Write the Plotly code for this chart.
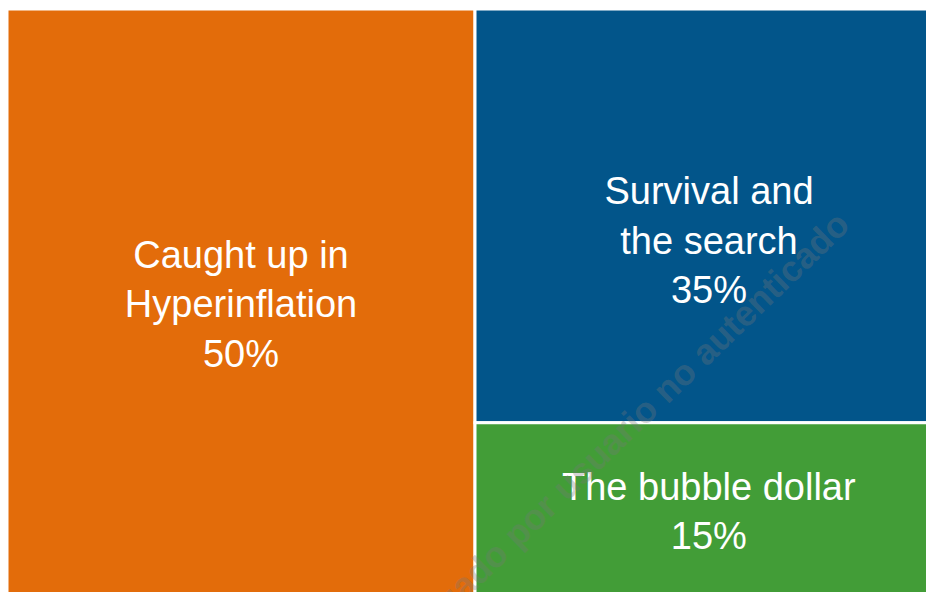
import plotly.graph_objects as go

labels = ["Caught up in<br>Hyperinflation", "Survival and<br>the search", "The bubble dollar"]
values = [50, 35, 15]
pct_text = ["50%", "35%", "15%"]
colors = ["#E36C0A", "#02558A", "#429D37"]
templates = ["%{label}<br>%{text}", "\u00a0<br>%{label}<br>%{text}", "%{label}<br>%{text}"]

fig = go.Figure(go.Treemap(
    labels=labels,
    parents=["", "", ""],
    values=values,
    text=pct_text,
    texttemplate=templates,
    textposition="middle center",
    sort=True,
    marker=dict(colors=colors, line=dict(color="white", width=3),
                pad=dict(t=0, l=0, r=0, b=0)),
    tiling=dict(packing="squarify", pad=0),
    pathbar=dict(visible=False),
    insidetextfont=dict(family="Liberation Sans, Arial, sans-serif", size=38, color="white"),
    hoverinfo="label+value",
))

fig.add_annotation(
    text="Descargado por usuario no autenticado",
    xref="paper", yref="paper", x=0.6314, y=0.247,
    xanchor="center", yanchor="middle",
    textangle=-44, showarrow=False,
    font=dict(family="Liberation Sans, Arial, sans-serif", size=36,
              color="rgba(120,120,120,0.33)", weight="bold"),
)

fig.update_layout(
    width=943, height=600,
    margin=dict(l=7, r=0, t=9, b=0),
    paper_bgcolor="white",
    showlegend=False,
)

fig.write_html(
    "out.html",
    config={"displayModeBar": False},
    post_script="document.body.style.margin='0';document.body.style.overflow='hidden';",
)
